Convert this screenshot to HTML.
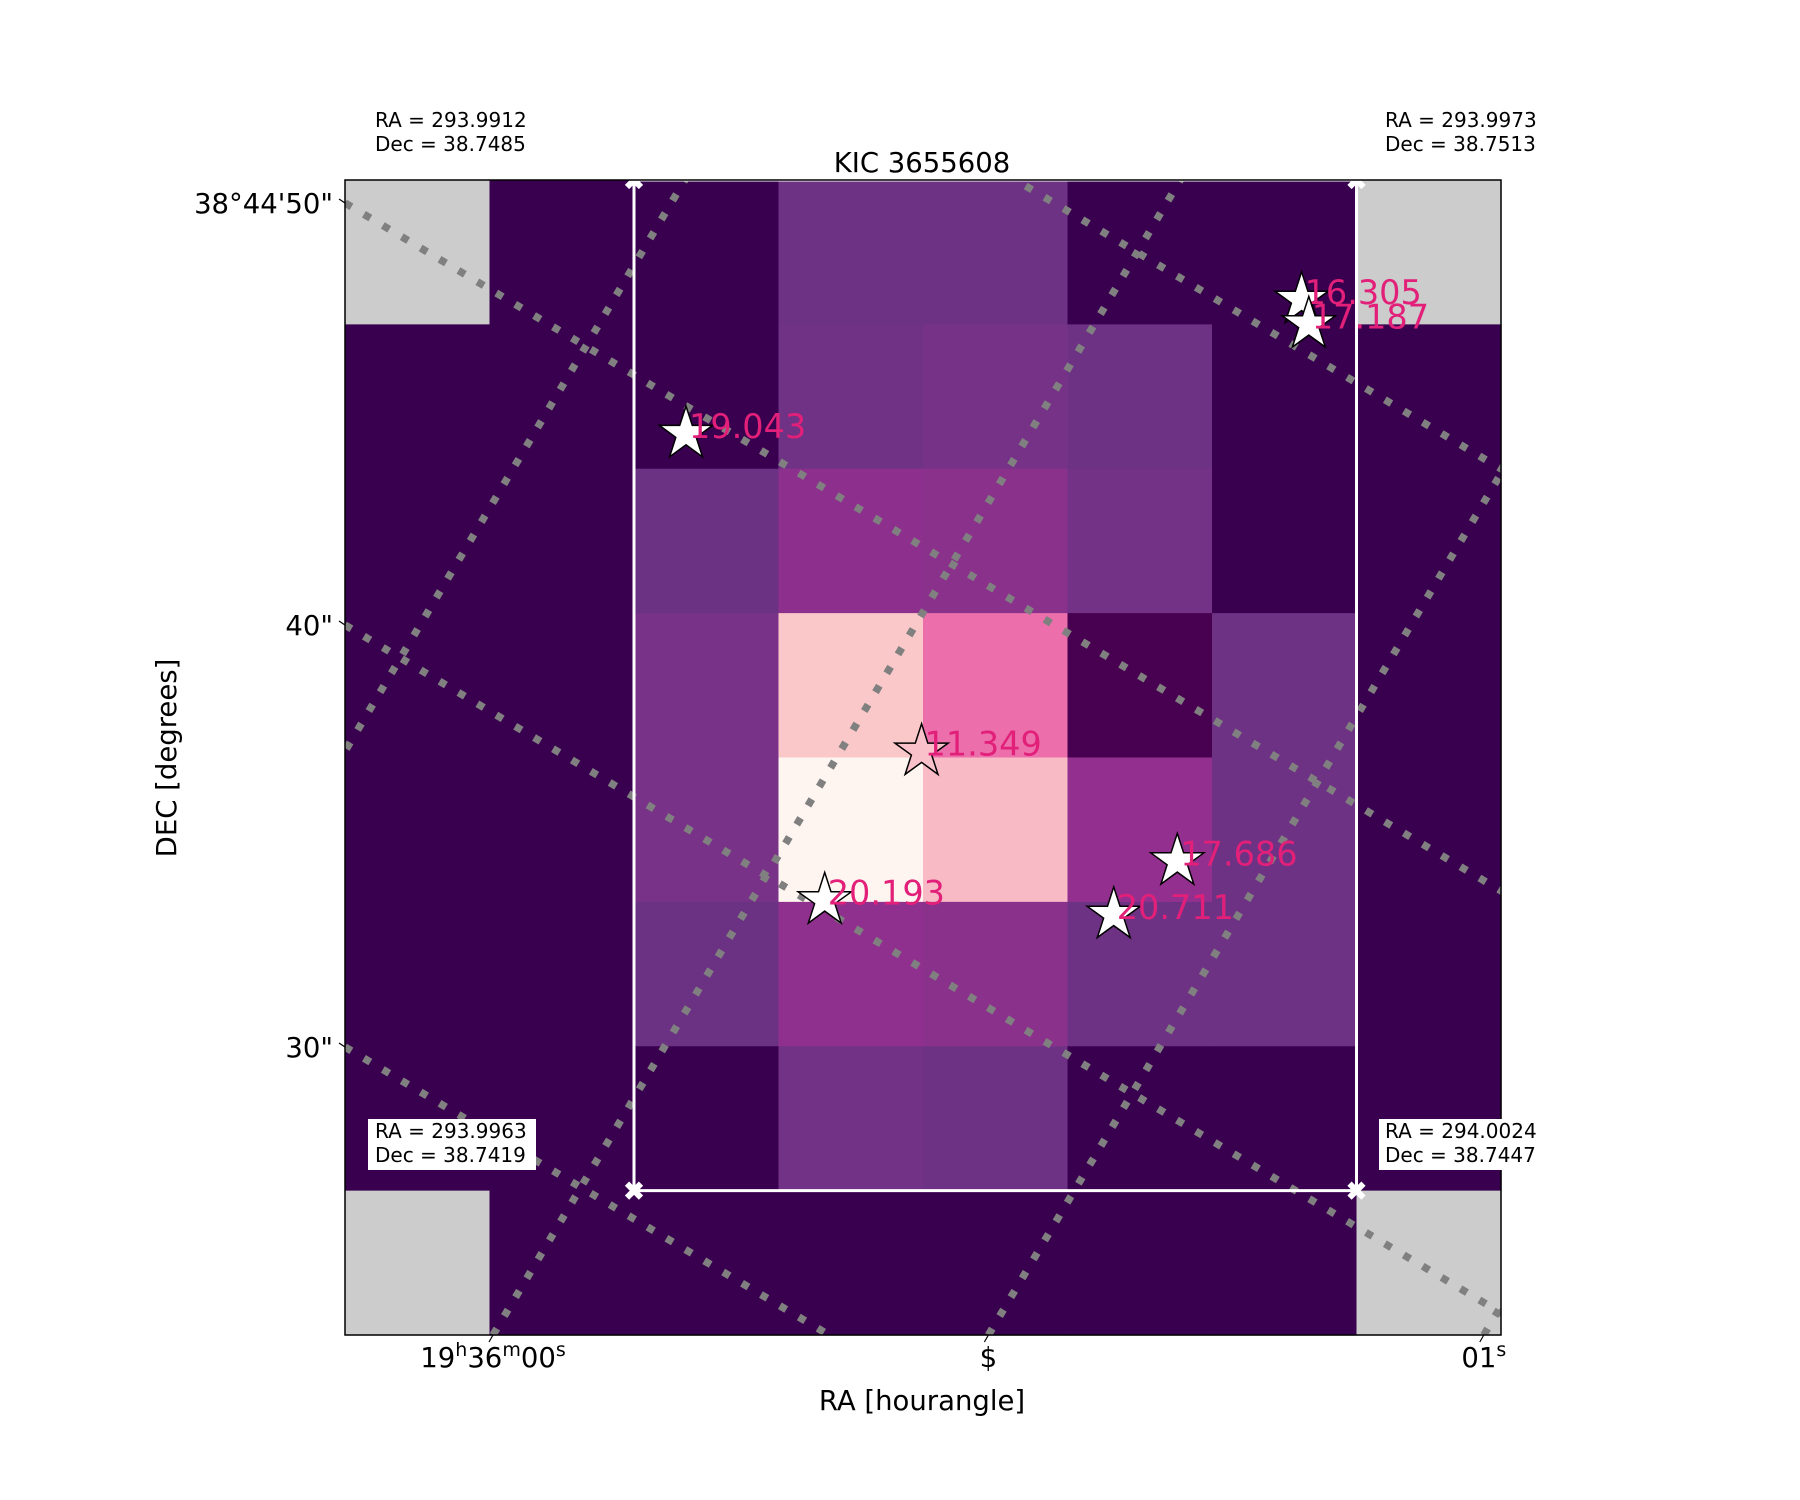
<!DOCTYPE html>
<html><head><meta charset="utf-8"><style>
html,body{margin:0;padding:0;background:#fff;overflow:hidden;width:1800px;height:1500px;}
svg{display:block;font-family:"DejaVu Sans","Liberation Sans",sans-serif;}
</style></head><body>
<svg id="chart" width="1800" height="1500" viewBox="0 0 1800 1500" xmlns="http://www.w3.org/2000/svg">
<defs><clipPath id="axclip"><rect x="345" y="180" width="1156" height="1155"/></clipPath></defs>
<rect x="0" y="0" width="1800" height="1500" fill="#fff"/>
<g id="cells"></g>
<g id="grid" clip-path="url(#axclip)"></g>
<g id="aperture"></g>
<g id="stars"></g>
<rect x="345" y="180" width="1156" height="1155" fill="none" stroke="#000" stroke-width="1.5"/>
<text x="922" y="172" font-size="27.5" text-anchor="middle">KIC 3655608</text>
<text x="922" y="1410" font-size="27.5" text-anchor="middle">RA [hourangle]</text>
<text transform="translate(176,758) rotate(-90)" font-size="27.5" text-anchor="middle">DEC [degrees]</text>
<g id="ticks"></g>
<g font-size="20">
  <text x="375" y="127"><tspan x="375">RA = 293.9912</tspan><tspan x="375" dy="24">Dec = 38.7485</tspan></text>
  <text x="1385" y="127"><tspan x="1385">RA = 293.9973</tspan><tspan x="1385" dy="24">Dec = 38.7513</tspan></text>
  <rect x="368" y="1119" width="168" height="51" fill="#fff"/>
  <text x="375" y="1138"><tspan x="375">RA = 293.9963</tspan><tspan x="375" dy="24">Dec = 38.7419</tspan></text>
  <rect x="1379" y="1119" width="166" height="51" fill="#fff"/>
  <text x="1385" y="1138"><tspan x="1385">RA = 294.0024</tspan><tspan x="1385" dy="24">Dec = 38.7447</tspan></text>
</g>
</svg>
<script>
// ---- data ----
const flux = [
 [null,0,0,0.31,0.31,0,0,null],
 [0,0,0,0.32,0.35,0.31,0,0],
 [0,0,0.30,0.43,0.42,0.34,0,0],
 [0,0,0.36,0.85,0.60,0.04,0.31,0],
 [0,0,0.36,1.00,0.80,0.45,0.315,0],
 [0,0,0.30,0.44,0.42,0.315,0.315,0],
 [0,0,0,0.33,0.315,0,0,0],
 [null,0,0,0,0,0,0,null]
];
const starCol = [6.62, 6.67, 2.36, 3.99, 5.76, 3.32, 5.32];
const starRow = [0.83, 1.00, 1.76, 3.96, 4.72, 4.99, 5.09];
const starMag = ["16.305","17.187","19.043","11.349","17.686","20.193","20.711"];
const raGridVals = [-0.5, 0, 0.5, 1.0];
const raTickVals = [0, 0.5, 1.0];
const raTickLabels = [["19","h","36","m","00","s"],["$"],["01","s"]];
const decGridVals = [60, 50, 40, 30];
const decTickVals = [50, 40, 30];
const decTickLabels = ["38°44'50\"", "40\"", "30\""];
const apertureCols = [2, 7];
const apertureRows = [0, 7];

// ---- axes ----
const AX={x:345,y:180,w:1156,h:1155}, N=8;
const cw=AX.w/N, ch=AX.h/N;
const colX=c=>AX.x+c*cw, rowY=r=>AX.y+r*ch;
const raBottomX=s=>493+s*990.8;
const decLeftY=d=>203+(50-d)*42.2;
const RA_SLOPE=0.595, DEC_SLOPE=0.595;
const NS="http://www.w3.org/2000/svg";
function mk(tag,attrs,parent){const e=document.createElementNS(NS,tag);for(const k in attrs)e.setAttribute(k,attrs[k]);parent.appendChild(e);return e;}

const stops=[[0,"#3a0050"],[0.04,"#480050"],[0.30,"#6b3283"],[0.36,"#783287"],[0.45,"#93308f"],[0.60,"#ec6fac"],[0.80,"#f8bac5"],[0.85,"#fac8c8"],[1,"#fff5f0"]];
function hex(h){return [1,3,5].map(i=>parseInt(h.substr(i,2),16));}
function cmap(v){
  if(v===null)return "#cccccc";
  for(let i=1;i<stops.length;i++){if(v<=stops[i][0]){const a=stops[i-1],b=stops[i];const t=(v-a[0])/(b[0]-a[0]);const A=hex(a[1]),B=hex(b[1]);return "rgb("+A.map((x,j)=>Math.round(x+(B[j]-x)*t)).join(",")+")";}}
  return stops[stops.length-1][1];
}

const gc=document.getElementById('cells');
flux.forEach((row,r)=>row.forEach((v,c)=>{
  const e=mk('rect',{x:colX(c),y:rowY(r),width:cw+0.6,height:ch+0.6,fill:cmap(v)},gc);
  
  
}));

const gg=document.getElementById('grid');
const gstyle={stroke:"#808080","stroke-width":7.5,"stroke-dasharray":"7.5 14.5",fill:"none"};
raGridVals.forEach(s=>{
  const xb=raBottomX(s), yb=AX.y+AX.h, yt=AX.y-50;
  const e=mk('line',Object.assign({x1:xb,y1:yb,x2:xb+(yb-yt)*RA_SLOPE,y2:yt},gstyle),gg);
  
  
});
decGridVals.forEach(d=>{
  const yl=decLeftY(d), x2=AX.x+AX.w+50;
  const e=mk('line',Object.assign({x1:AX.x,y1:yl,x2:x2,y2:yl+(x2-AX.x)*DEC_SLOPE},gstyle),gg);
  
  
});

const ga=document.getElementById('aperture');
const ax1=colX(apertureCols[0]), ax2=colX(apertureCols[1]), ay1=rowY(apertureRows[0]), ay2=rowY(apertureRows[1]);
const ap=mk('rect',{x:ax1,y:ay1,width:ax2-ax1,height:ay2-ay1,fill:"none",stroke:"#fff","stroke-width":3},ga);


[[ax1,ay1],[ax2,ay1],[ax1,ay2],[ax2,ay2]].forEach(p=>{
  const g=mk('path',{d:`M${p[0]-7},${p[1]-7}L${p[0]+7},${p[1]+7}M${p[0]+7},${p[1]-7}L${p[0]-7},${p[1]+7}`,stroke:"#fff","stroke-width":6},ga);
  
  
});

const gs=document.getElementById('stars');
function starPath(cx,cy,R){const r=R*0.382;let d="";for(let i=0;i<10;i++){const a=-Math.PI/2+i*Math.PI/5;const rr=i%2?r:R;d+=(i?"L":"M")+(cx+rr*Math.cos(a)).toFixed(1)+","+(cy+rr*Math.sin(a)).toFixed(1);}return d+"Z";}
starMag.forEach((m,i)=>{
  const cx=AX.x+starCol[i]*cw, cy=AX.y+starRow[i]*ch;
  const s=mk('path',{d:starPath(cx,cy,28),fill:(m==="11.349"?"#f9c2cb":"#fff"),stroke:"#000","stroke-width":1.5},gs);
  
  
  const t=mk('text',{x:cx+3,y:cy+4,"font-size":33.5,fill:"#e22079"},gs);
  t.textContent=m;
  
  
});

const gt=document.getElementById('ticks');
raTickVals.forEach((s,i)=>{
  const t=mk('text',{x:raBottomX(s),y:1367,"font-size":27.5,"text-anchor":"middle"},gt);
  
  
  const parts=raTickLabels[i];
  parts.forEach((p,j)=>{
    const sup=(p==="h"||p==="m"||p==="s");
    const ts=mk('tspan',sup?{"font-size":19,dy:-11}:(j>0&&["h","m","s"].includes(parts[j-1])?{dy:11}:{}),t);
    ts.textContent=p;
  });
  const tk=mk('line',{x1:raBottomX(s),y1:AX.y+AX.h,x2:raBottomX(s)-4,y2:AX.y+AX.h+7,stroke:"#000","stroke-width":1.2},gt);
  
  
});
decTickVals.forEach((d,i)=>{
  const t=mk('text',{x:333,y:decLeftY(d)+10,"font-size":27.5,"text-anchor":"end"},gt);
  t.textContent=decTickLabels[i];
  
  
  const tk=mk('line',{x1:AX.x,y1:decLeftY(d),x2:AX.x-6,y2:decLeftY(d)-4,stroke:"#000","stroke-width":1.2},gt);
  
  
});
</script>
</body></html>
